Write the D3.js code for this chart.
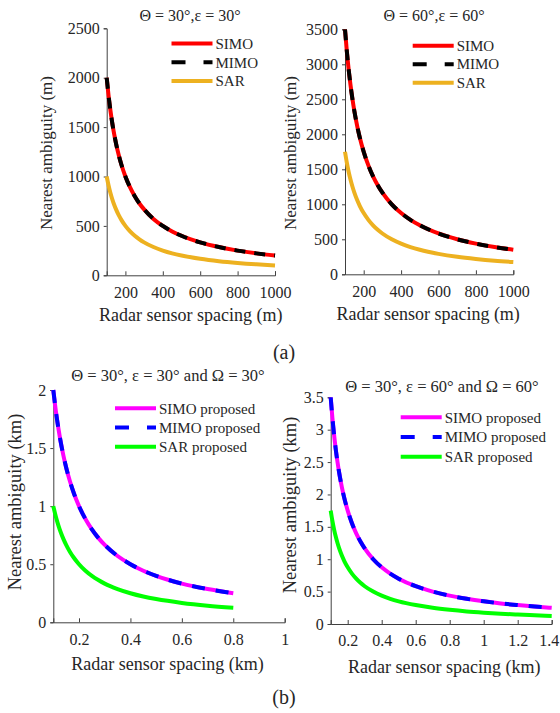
<!DOCTYPE html>
<html lang="en">
<head>
<meta charset="utf-8">
<script src="https://d3js.org/d3.v7.min.js"></script>
<style>
  body { margin: 0; background: #fff; }
</style>
</head>
<body>
<script>
// ---- data ----
// (a) spacing in metres
var xA = [100, 110, 120, 130, 140, 150, 165, 180, 200, 225, 250, 275, 300, 350, 400, 450, 500, 600, 700, 800, 900, 1000];
var simoA1 = [2000, 1818, 1667, 1538, 1429, 1333, 1212, 1111, 1000, 889, 800, 727, 667, 571, 500, 444, 400, 333, 286, 250, 222, 200];
var mimoA1 = [2000, 1818, 1667, 1538, 1429, 1333, 1212, 1111, 1000, 889, 800, 727, 667, 571, 500, 444, 400, 333, 286, 250, 222, 200];
var sarA1  = [1000, 909, 833, 769, 714, 667, 606, 556, 500, 444, 400, 364, 333, 286, 250, 222, 200, 167, 143, 125, 111, 100];
var simoA2 = [3500, 3182, 2917, 2692, 2500, 2333, 2121, 1944, 1750, 1556, 1400, 1273, 1167, 1000, 875, 778, 700, 583, 500, 438, 389, 350];
var mimoA2 = [3500, 3182, 2917, 2692, 2500, 2333, 2121, 1944, 1750, 1556, 1400, 1273, 1167, 1000, 875, 778, 700, 583, 500, 438, 389, 350];
var sarA2  = [1750, 1591, 1458, 1346, 1250, 1167, 1061, 972, 875, 778, 700, 636, 583, 500, 438, 389, 350, 292, 250, 219, 194, 175];

// (b) spacing in km
var xB1 = [0.1, 0.11, 0.12, 0.13, 0.14, 0.15, 0.165, 0.18, 0.2, 0.225, 0.25, 0.275, 0.3, 0.35, 0.4, 0.45, 0.5, 0.6, 0.7, 0.8];
var simoB1 = [2, 1.818, 1.667, 1.538, 1.429, 1.333, 1.212, 1.111, 1, 0.889, 0.8, 0.727, 0.667, 0.571, 0.5, 0.444, 0.4, 0.333, 0.286, 0.25];
var mimoB1 = [2, 1.818, 1.667, 1.538, 1.429, 1.333, 1.212, 1.111, 1, 0.889, 0.8, 0.727, 0.667, 0.571, 0.5, 0.444, 0.4, 0.333, 0.286, 0.25];
var sarB1  = [1, 0.909, 0.833, 0.769, 0.714, 0.667, 0.606, 0.556, 0.5, 0.444, 0.4, 0.364, 0.333, 0.286, 0.25, 0.222, 0.2, 0.167, 0.143, 0.125];
var xB2 = [0.1, 0.11, 0.12, 0.13, 0.14, 0.15, 0.165, 0.18, 0.2, 0.225, 0.25, 0.275, 0.3, 0.35, 0.4, 0.45, 0.5, 0.6, 0.7, 0.8, 0.9, 1.0, 1.1, 1.2, 1.3, 1.4];
var simoB2 = [3.5, 3.182, 2.917, 2.692, 2.5, 2.333, 2.121, 1.944, 1.75, 1.556, 1.4, 1.273, 1.167, 1, 0.875, 0.778, 0.7, 0.583, 0.5, 0.4375, 0.389, 0.35, 0.318, 0.292, 0.269, 0.25];
var mimoB2 = [3.5, 3.182, 2.917, 2.692, 2.5, 2.333, 2.121, 1.944, 1.75, 1.556, 1.4, 1.273, 1.167, 1, 0.875, 0.778, 0.7, 0.583, 0.5, 0.4375, 0.389, 0.35, 0.318, 0.292, 0.269, 0.25];
var sarB2  = [1.75, 1.591, 1.458, 1.346, 1.25, 1.167, 1.061, 0.972, 0.875, 0.778, 0.7, 0.636, 0.583, 0.5, 0.4375, 0.389, 0.35, 0.292, 0.25, 0.219, 0.194, 0.175, 0.159, 0.146, 0.135, 0.125];

// tick values
var xTicksA = [200, 400, 600, 800, 1000];
var yTicksA1 = [0, 500, 1000, 1500, 2000, 2500];
var yTicksA2 = [0, 500, 1000, 1500, 2000, 2500, 3000, 3500];
var xTicksB1 = [0.2, 0.4, 0.6, 0.8, 1];
var xTicksB2 = [0.2, 0.4, 0.6, 0.8, 1, 1.2, 1.4];
var yTicksB1 = [0, 0.5, 1, 1.5, 2];
var yTicksB2 = [0, 0.5, 1, 1.5, 2, 2.5, 3, 3.5];

var namesA = ["SIMO", "MIMO", "SAR"];
var namesB = ["SIMO proposed", "MIMO proposed", "SAR proposed"];

var width = 560, height = 713;
var serif = "'Liberation Serif', 'Times New Roman', Times, serif";
var ink = "#262626";

var svg = d3.select("body").append("svg")
    .attr("width", width)
    .attr("height", height);

function drawPanel(p) {
    var x = d3.scaleLinear().domain(p.xDomain).range([p.left, p.right]);
    var y = d3.scaleLinear().domain(p.yDomain).range([p.bottom, p.top]);
    var g = svg.append("g");

    var xAxis = g.append("g")
        .attr("transform", "translate(0," + p.bottom + ")")
        .call(d3.axisBottom(x).tickValues(p.xTicks).tickSize(-4).tickPadding(11).tickFormat(d3.format("")));
    var yAxis = g.append("g")
        .attr("transform", "translate(" + p.left + ",0)")
        .call(d3.axisLeft(y).tickValues(p.yTicks).tickSize(3).tickPadding(4).tickFormat(d3.format("")));
    [xAxis, yAxis].forEach(function (a) {
        a.select(".domain").attr("stroke", "#404040").attr("stroke-width", 1);
        a.selectAll(".tick line").attr("stroke", "#404040");
        a.selectAll(".tick text").style("font-size", "16px").attr("fill", ink);
    });
    // last x tick label sits at the window edge
    if (p.lastDx) {
        xAxis.selectAll(".tick text").filter(function (d) { return d == p.xTicks[p.xTicks.length - 1]; })
            .attr("dx", p.lastDx);
    }

    var line = d3.line()
        .x(function (d) { return x(d[0]); })
        .y(function (d) { return y(d[1]); })
        .curve(d3.curveMonotoneX);

    // SIMO solid, MIMO dashed on top, SAR solid
    var series = [
        { v: p.simo, c: p.colors[0], dash: null },
        { v: p.mimo, c: p.colors[1], dash: p.dash },
        { v: p.sar,  c: p.colors[2], dash: null }
    ];
    series.forEach(function (s) {
        g.append("path")
            .datum(p.xs.map(function (d, i) { return [d, s.v[i]]; }))
            .attr("d", line)
            .attr("fill", "none")
            .attr("stroke", s.c)
            .attr("stroke-width", 4)
            .attr("stroke-dasharray", s.dash);
    });

    // legend
    p.names.forEach(function (n, i) {
        var ly = p.legY + i * p.legStep;
        g.append("line")
            .attr("x1", p.legX).attr("x2", p.legX + 41)
            .attr("y1", ly).attr("y2", ly)
            .attr("stroke", series[i].c)
            .attr("stroke-width", 4)
            .attr("stroke-dasharray", i == 1 ? "14,18" : null);
        g.append("text")
            .attr("x", p.legX + 44).attr("y", ly)
            .attr("dy", "0.35em")
            .style("font-size", "15px")
            .text(n);
    });

    // title and axis labels
    g.append("text")
        .attr("x", p.titleX).attr("y", p.titleY)
        .attr("dy", "0.35em")
        .attr("text-anchor", "middle")
        .style("font-size", p.titleSize)
        .text(p.title);
    g.append("text")
        .attr("x", (p.left + p.right) / 2 + p.xLabShift).attr("y", p.bottom + p.xLabOff)
        .attr("dy", "0.35em")
        .attr("text-anchor", "middle")
        .style("font-size", "18px")
        .text(p.xLabel);
    g.append("text")
        .attr("transform", "translate(" + p.yLabX + "," + p.yLabY + ") rotate(-90)")
        .attr("dy", "0.35em")
        .attr("text-anchor", "middle")
        .style("font-size", p.yLabSize)
        .text(p.yLabel);
}

drawPanel({
    xs: xA, simo: simoA1, mimo: mimoA1, sar: sarA1,
    xDomain: [100, 1000], yDomain: [0, 2500], xTicks: xTicksA, yTicks: yTicksA1,
    left: 106.7, right: 275, top: 28.3, bottom: 275.3,
    colors: ["#ff0000", "#000000", "#edb120"], dash: "11,9", names: namesA,
    legX: 171.5, legY: 43.5, legStep: 18.8,
    title: "\u0398 = 30\u00b0,\u03b5 = 30\u00b0", titleX: 190, titleY: 15, titleSize: "16px",
    xLabel: "Radar sensor spacing (m)", xLabShift: 0, xLabOff: 39,
    yLabel: "Nearest ambiguity (m)", yLabX: 46, yLabY: 153, yLabSize: "17px"
});

drawPanel({
    xs: xA, simo: simoA2, mimo: mimoA2, sar: sarA2,
    xDomain: [100, 1000], yDomain: [0, 3500], xTicks: xTicksA, yTicks: yTicksA2,
    left: 345, right: 513.3, top: 29.3, bottom: 274.3,
    colors: ["#ff0000", "#000000", "#edb120"], dash: "11,9", names: namesA,
    legX: 412.7, legY: 45.7, legStep: 18.5,
    title: "\u0398 = 60\u00b0,\u03b5 = 60\u00b0", titleX: 434, titleY: 15, titleSize: "16px",
    xLabel: "Radar sensor spacing (m)", xLabShift: -1, xLabOff: 39,
    yLabel: "Nearest ambiguity (m)", yLabX: 290, yLabY: 153, yLabSize: "17px"
});

drawPanel({
    xs: xB1, simo: simoB1, mimo: mimoB1, sar: sarB1,
    xDomain: [0.1, 1], yDomain: [0, 2], xTicks: xTicksB1, yTicks: yTicksB1,
    left: 53.3, right: 284.7, top: 390, bottom: 622.3,
    colors: ["#ff00ff", "#0000ff", "#00ff00"], dash: "13,11", names: namesB,
    legX: 115, legY: 408.3, legStep: 19.2,
    title: "\u0398 = 30\u00b0, \u03b5 = 30\u00b0 and \u03a9 = 30\u00b0", titleX: 168, titleY: 375, titleSize: "16.5px",
    xLabel: "Radar sensor spacing (km)", xLabShift: -1.5, xLabOff: 41,
    yLabel: "Nearest ambiguity (km)", yLabX: 15, yLabY: 502, yLabSize: "18.5px"
});

drawPanel({
    xs: xB2, simo: simoB2, mimo: mimoB2, sar: sarB2,
    xDomain: [0.1, 1.4], yDomain: [0, 3.5], xTicks: xTicksB2, yTicks: yTicksB2,
    left: 330.7, right: 551.7, top: 397.3, bottom: 624,
    colors: ["#ff00ff", "#0000ff", "#00ff00"], dash: "13,11", names: namesB,
    legX: 400.7, legY: 417.3, legStep: 19.7,
    title: "\u0398 = 30\u00b0, \u03b5 = 60\u00b0 and \u03a9 = 60\u00b0", titleX: 442, titleY: 386.7, titleSize: "16.5px",
    xLabel: "Radar sensor spacing (km)", xLabShift: 3, xLabOff: 43,
    yLabel: "Nearest ambiguity (km)", yLabX: 290, yLabY: 505, yLabSize: "18.5px",
    lastDx: -3
});

// subfigure captions
svg.append("text").attr("x", 284).attr("y", 352).attr("dy", "0.35em")
    .attr("text-anchor", "middle").style("font-size", "20px").text("(a)");
svg.append("text").attr("x", 284).attr("y", 697).attr("dy", "0.35em")
    .attr("text-anchor", "middle").style("font-size", "20px").text("(b)");

// Times-like serif everywhere
svg.selectAll("text")
    .style("font-family", serif)
    .style("fill", ink);
</script>
</body>
</html>
